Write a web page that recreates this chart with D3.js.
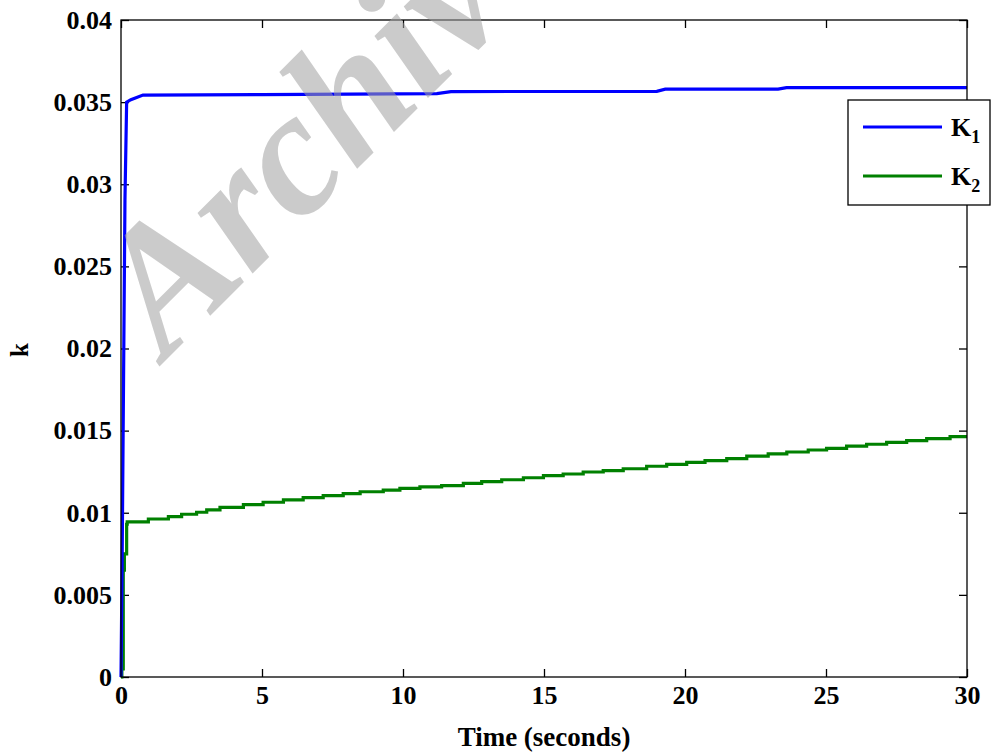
<!DOCTYPE html>
<html>
<head>
<meta charset="utf-8">
<script src="https://cdn.jsdelivr.net/npm/d3@7"></script>
<style>
  html, body { margin: 0; padding: 0; background: #fff; }
  svg { display: block; }
  text { font-family: "Liberation Serif", "Times New Roman", serif; font-weight: bold; }
</style>
</head>
<body>
<svg id="chart" width="992" height="753"></svg>
<script>
// Gain K1: fast rise, then nearly flat with a few small steps
const k1Time  = [0, 0.04, 0.14, 0.20, 0.35, 0.78, 5.0, 11.2, 11.7, 19.0, 19.3, 23.3, 23.6, 30];
const k1Value = [0, 0.0070, 0.0290, 0.0350, 0.03515, 0.03543, 0.03546, 0.03552, 0.03564, 0.03566, 0.03579, 0.03579, 0.03588, 0.03588];

// Gain K2: fast rise, then a slow staircase climb
const k2Time  = [0, 0.03, 0.08, 0.12, 0.20, 0.22, 0.97, 1.68, 2.15, 2.68, 3.04, 3.51, 4.34, 5.04, 5.76,
                 6.46, 7.17, 7.88, 8.48, 9.30, 9.89, 10.60, 11.37, 12.14, 12.79, 13.50, 14.27, 14.98,
                 15.68, 16.39, 17.10, 17.81, 18.64, 19.35, 20.06, 20.71, 21.48, 22.19, 22.95, 23.61,
                 24.37, 25.02, 25.73, 26.44, 27.15, 27.86, 28.57, 29.40, 30];
const k2Value = [0, 0.0005, 0.0065, 0.0075, 0.0093, 0.00945, 0.00962, 0.00976, 0.00991, 0.01003, 0.01017,
                 0.01033, 0.01049, 0.01064, 0.01078, 0.01092, 0.01104, 0.01116, 0.01128, 0.01138, 0.01149,
                 0.01157, 0.01165, 0.01179, 0.01189, 0.01201, 0.01213, 0.01226, 0.01236, 0.01248, 0.01256,
                 0.01268, 0.01283, 0.01295, 0.01307, 0.01317, 0.01329, 0.01345, 0.01359, 0.01370, 0.01382,
                 0.01392, 0.01406, 0.01417, 0.01429, 0.01439, 0.01451, 0.01464, 0.01464];

const xTicks = [0, 5, 10, 15, 20, 25, 30];
const yTicks = [0, 0.005, 0.01, 0.015, 0.02, 0.025, 0.03, 0.035, 0.04];
const seriesNames = ["K", "K"];
const seriesSubs = ["1", "2"];
const seriesColors = ["#0000ff", "#008000"];

const svg = d3.select("#chart");
const plotLeft = 121, plotRight = 967, plotTop = 20, plotBottom = 677;

const x = d3.scaleLinear().domain([0, 30]).range([plotLeft, plotRight]);
const y = d3.scaleLinear().domain([0, 0.04]).range([plotBottom, plotTop]);

const tickLen = 8;
const fmtY = d => d === 0 ? "0" : String(+d.toFixed(3));

// Axes with inward ticks on all four sides (box style)
function styleAxis(g) {
  g.select(".domain").remove();
  g.selectAll("line").attr("stroke", "#000").attr("stroke-width", 1.3);
}
function styleLabels(g) {
  g.selectAll("text").attr("font-size", 26).attr("fill", "#000")
    .attr("font-family", "Liberation Serif").attr("font-weight", "bold");
}

svg.append("g")
  .attr("transform", `translate(0,${plotBottom})`)
  .call(d3.axisBottom(x).tickValues(xTicks).tickSize(-tickLen).tickPadding(9).tickFormat(d3.format("d")))
  .call(styleAxis)
  .call(styleLabels);

svg.append("g")
  .attr("transform", `translate(0,${plotTop})`)
  .call(d3.axisTop(x).tickValues(xTicks).tickSize(-tickLen).tickFormat(""))
  .call(styleAxis);

svg.append("g")
  .attr("transform", `translate(${plotLeft},0)`)
  .call(d3.axisLeft(y).tickValues(yTicks).tickSize(-tickLen).tickPadding(9).tickFormat(fmtY))
  .call(styleAxis)
  .call(styleLabels);

svg.append("g")
  .attr("transform", `translate(${plotRight},0)`)
  .call(d3.axisRight(y).tickValues(yTicks).tickSize(-tickLen).tickFormat(""))
  .call(styleAxis);

// Series lines
const lineK1 = d3.line().x((d, i) => x(k1Time[i])).y(d => y(d));
const lineK2 = d3.line().x((d, i) => x(k2Time[i])).y(d => y(d)).curve(d3.curveStepAfter);

const plot = svg.append("g");
plot.append("path").datum(k2Value).attr("d", lineK2)
  .attr("fill", "none").attr("stroke", seriesColors[1]).attr("stroke-width", 3.2);
plot.append("path").datum(k1Value).attr("d", lineK1)
  .attr("fill", "none").attr("stroke", seriesColors[0]).attr("stroke-width", 3.2);

// Plot box
svg.append("rect")
  .attr("x", plotLeft).attr("y", plotTop).attr("width", plotRight - plotLeft).attr("height", plotBottom - plotTop)
  .attr("fill", "none").attr("stroke", "#000").attr("stroke-width", 1.3);

// Axis titles
svg.append("text").attr("x", (plotLeft + plotRight) / 2).attr("y", 746)
  .attr("text-anchor", "middle").attr("font-size", 27).text("Time (seconds)");
svg.append("text").attr("transform", "translate(28,350) rotate(-90)")
  .attr("text-anchor", "middle").attr("font-size", 25).text("k");

// Legend
const legend = svg.append("g");
legend.append("rect").attr("x", 848).attr("y", 100).attr("width", 142).attr("height", 105)
  .attr("fill", "#fff").attr("stroke", "#000").attr("stroke-width", 1.3);
const legendY = [127, 176];
seriesNames.forEach((name, i) => {
  legend.append("line").attr("x1", 863).attr("x2", 942).attr("y1", legendY[i]).attr("y2", legendY[i])
    .attr("stroke", seriesColors[i]).attr("stroke-width", 3.2);
  const t = legend.append("text").attr("x", 951).attr("y", legendY[i] + 9).attr("font-size", 26);
  t.append("tspan").text(name);
  t.append("tspan").attr("font-size", 18).attr("dy", 7).text(seriesSubs[i]);
});

// Watermark
svg.append("text")
  .attr("transform", "translate(166,360) rotate(-45)")
  .attr("font-size", 178).attr("font-style", "italic")
  .attr("fill", "#a0a0a0").attr("fill-opacity", 0.55)
  .text("Archive");
</script>
</body>
</html>
